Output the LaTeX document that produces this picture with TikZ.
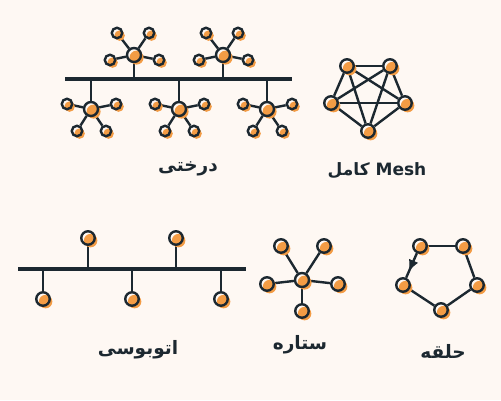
\documentclass[tikz,border=0pt]{standalone}
\usepackage{fontspec}
\setmainfont{DejaVu Sans}
\newfontfamily\arabicfont[Script=Arabic]{DejaVu Sans}
\TeXXeTstate=1
\usetikzlibrary{shadows,arrows.meta,calc}
\definecolor{bg}{HTML}{FEF8F3}
\definecolor{ink}{HTML}{1C2830}
\definecolor{org}{HTML}{F39C45}
\pgfdeclarelayer{bgfill}
\pgfdeclarelayer{background}
\pgfsetlayers{bgfill,background,main}
\begin{document}
\begin{tikzpicture}[x=1pt,y=-1pt,
  nd/.style={circle,draw=ink,line width=2.4pt,inner sep=0pt,minimum size=#1,
    general shadow={fill=org,shadow xshift=2.6pt,shadow yshift=-2.6pt}},
  nd/.default=13.5pt,
  ln/.style={draw=ink,line width=2.4pt},
  busline/.style={draw=ink,line width=3.2pt},
  lbl/.style={font=\arabicfont\bfseries\fontsize{18.5}{22}\selectfont, text=ink}]
\begin{pgfonlayer}{bgfill}
\fill[bg] (0,0) rectangle (501,400);
\end{pgfonlayer}
\useasboundingbox (0,0) rectangle (501,400);

% ---------- Tree ----------
\coordinate (tl) at (65,79);
\coordinate (tr) at (292,79);
\foreach \n/\x in {a/134,b/223}{
  \node[nd=14pt] (t\n) at (\x,55) {};
  \node[nd=10.5pt] (t\n1) at (\x-17,33) {};
  \node[nd=10.5pt] (t\n2) at (\x+15,33) {};
  \node[nd=10.5pt] (t\n3) at (\x-24,60) {};
  \node[nd=10.5pt] (t\n4) at (\x+25,60) {};
}
\foreach \n/\x in {c/91,d/179,e/267}{
  \node[nd=14pt] (t\n) at (\x,109) {};
  \node[nd=10.5pt] (t\n1) at (\x-24,104) {};
  \node[nd=10.5pt] (t\n2) at (\x+25,104) {};
  \node[nd=10.5pt] (t\n3) at (\x-14,131) {};
  \node[nd=10.5pt] (t\n4) at (\x+15,131) {};
}
\begin{pgfonlayer}{background}
\draw[busline] (tl) -- (tr);
\foreach \n in {a,b,c,d,e}{
  \foreach \k in {1,2,3,4} \draw[ln] (t\n) -- (t\n\k);
  \draw[ln] (t\n) -- (t\n |- tl);
}
\end{pgfonlayer}
\node[lbl] (treelbl) at (188,169) {\beginR درختی\endR};

% ---------- Mesh ----------
\node[nd] (m1) at (347,66) {};
\node[nd] (m2) at (390,66) {};
\node[nd] (m3) at (405,103) {};
\node[nd] (m4) at (368,131) {};
\node[nd] (m5) at (331,103) {};
\begin{pgfonlayer}{background}
\foreach \a/\b in {1/2,1/3,1/4,1/5,2/3,2/4,2/5,3/4,3/5,4/5}
  \draw[ln] (m\a) -- (m\b);
\end{pgfonlayer}
\node[lbl,font=\arabicfont\bfseries\fontsize{17}{20}\selectfont] (meshlbl) at (377,171) {\beginR\beginL Mesh\endL{} کامل\endR};

% ---------- Bus ----------
\coordinate (bl) at (18,269);
\coordinate (br) at (246,269);
\node[nd] (b1) at (88,238) {};
\node[nd] (b2) at (176,238) {};
\node[nd] (b3) at (43,299) {};
\node[nd] (b4) at (132,299) {};
\node[nd] (b5) at (221,299) {};
\begin{pgfonlayer}{background}
\draw[busline] (bl) -- (br);
\foreach \k in {1,...,5} \draw[ln] (b\k) -- (b\k |- bl);
\end{pgfonlayer}
\node[lbl] (buslbl) at (138,350) {\beginR اتوبوسی\endR};

% ---------- Star ----------
\node[nd=14pt] (s0) at (302,280) {};
\node[nd] (s1) at (281,246) {};
\node[nd] (s2) at (324,246) {};
\node[nd] (s3) at (267,284) {};
\node[nd] (s4) at (338,284) {};
\node[nd] (s5) at (302,311) {};
\begin{pgfonlayer}{background}
\foreach \k in {1,...,5} \draw[ln] (s0) -- (s\k);
\end{pgfonlayer}
\node[lbl] (starlbl) at (300,345) {\beginR ستاره\endR};

% ---------- Ring ----------
\node[nd] (r1) at (420,246) {};
\node[nd] (r2) at (463,246) {};
\node[nd] (r3) at (477,285) {};
\node[nd] (r4) at (441,310) {};
\node[nd] (r5) at (403,285) {};
\coordinate (rtip) at ($(r1)!0.64!(r5)$);
\begin{pgfonlayer}{background}
\draw[ln] (r1) -- (r2);
\draw[ln] (r2) -- (r3);
\draw[ln] (r3) -- (r4);
\draw[ln] (r4) -- (r5);
\draw[ln] (r1) -- (r5);
\end{pgfonlayer}
\draw[draw=ink, line width=1pt, -{Latex[length=11pt,width=10pt]}] (r1) -- (rtip);
\node[lbl] (ringlbl) at (443,351) {\beginR حلقه\endR};
\end{tikzpicture}
\end{document}
